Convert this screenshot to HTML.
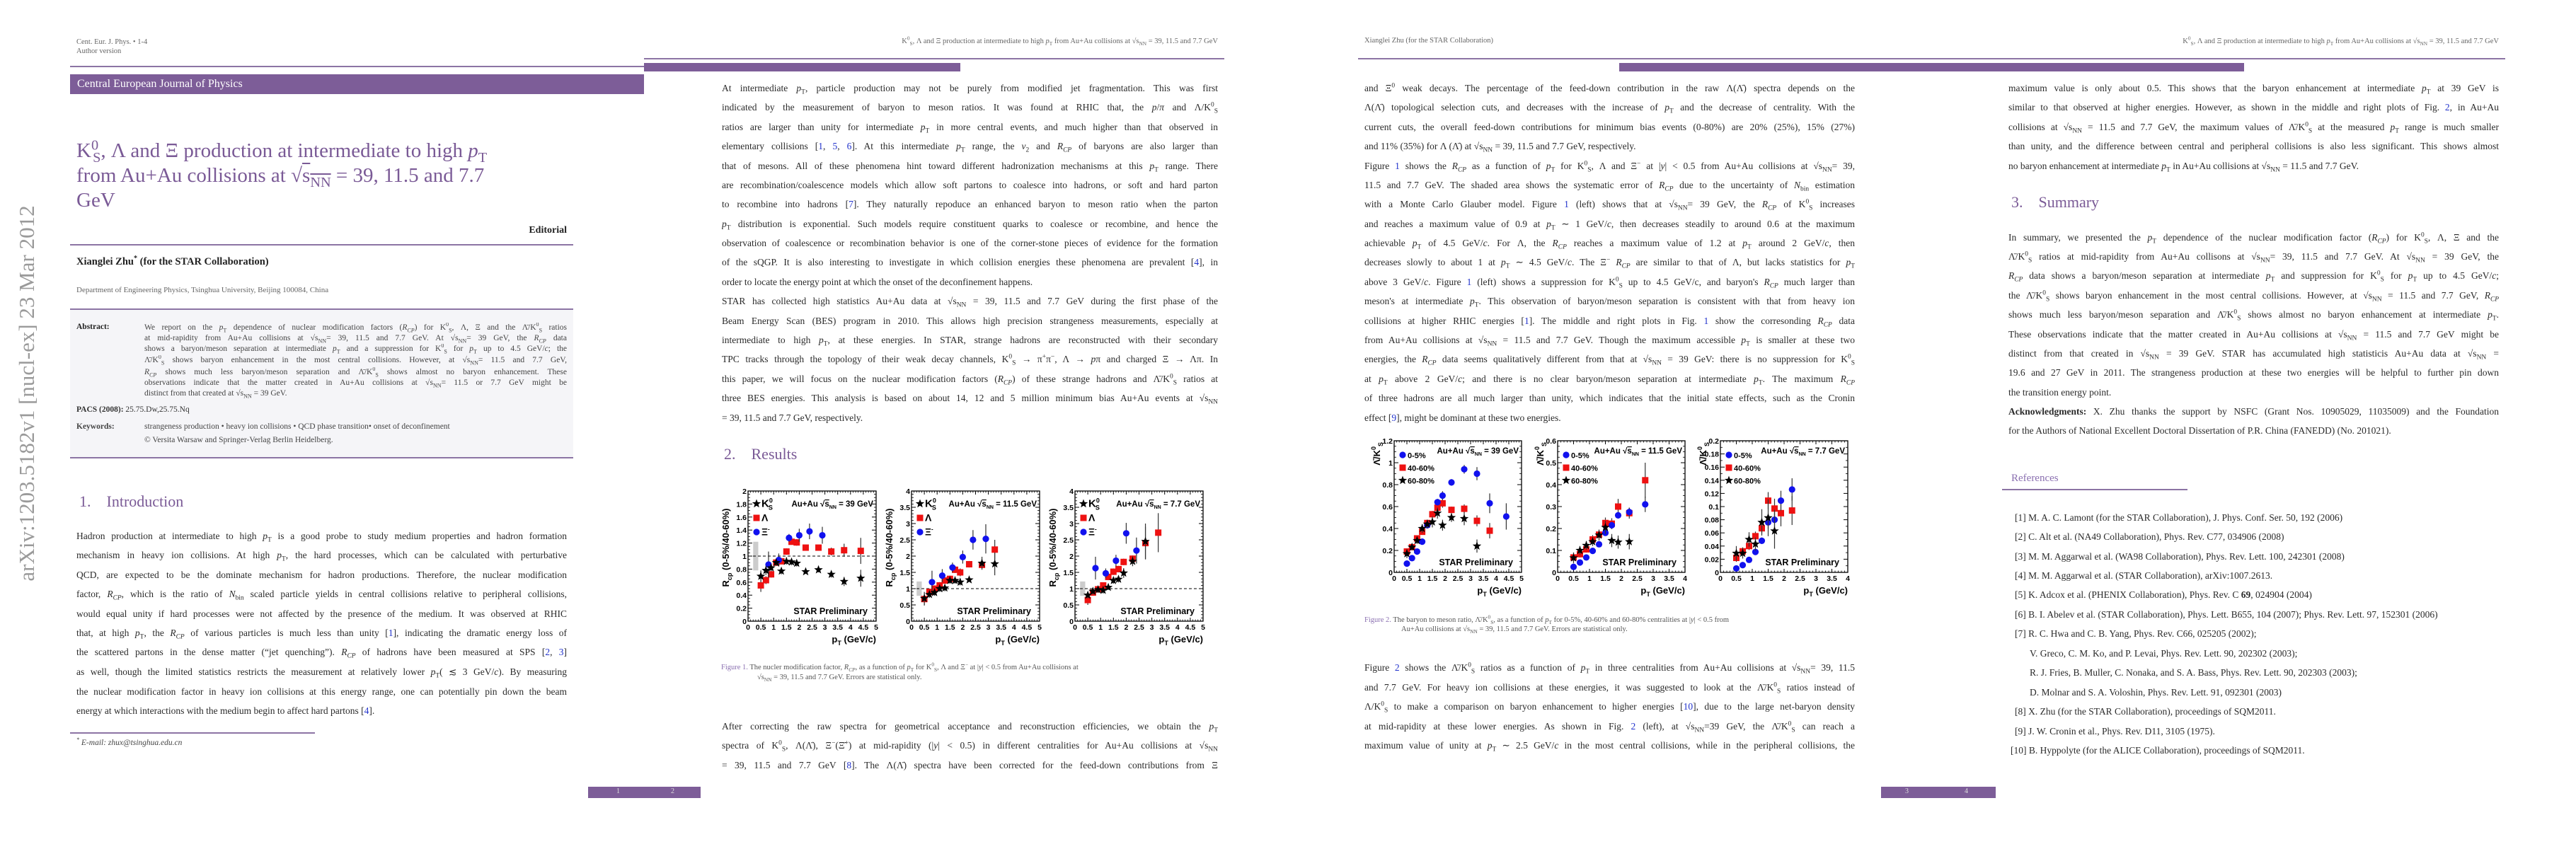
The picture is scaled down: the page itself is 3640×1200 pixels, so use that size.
<!DOCTYPE html>
<html><head><meta charset="utf-8">
<style>
html,body{margin:0;padding:0;background:#fff;}
body{width:3640px;height:1200px;position:relative;overflow:hidden;font-family:"Liberation Serif",serif;color:#2a2a2a;}
.a{position:absolute;}
.t{position:absolute;font-size:13.5px;line-height:16px;height:16px;width:693px;text-align:justify;text-align-last:justify;white-space:normal;overflow:hidden;color:#2a2a2a;}
.t.w{width:701px;}
.t.e{text-align-last:left;}
.s{position:absolute;font-size:11.5px;line-height:14px;height:14px;color:#444;text-align:justify;text-align-last:justify;overflow:hidden;}
.s.e{text-align-last:left;}
.hd{position:absolute;font-size:10.5px;color:#666;white-space:nowrap;}
.rule{position:absolute;height:2px;background:#8c74a4;}
.bar{position:absolute;background:#7d5d98;}
.sec{position:absolute;font-size:22px;color:#7a5a96;white-space:nowrap;}
.lk{color:#2233cc;}
sub,sup{font-size:70%;line-height:0;}
.cap{position:absolute;font-size:10.5px;color:#555;white-space:nowrap;}
.cap b{font-weight:normal;color:#8a6fb0;}
</style></head><body>

<!-- ================= PAGE 1 ================= -->
<div class="a" style="left:0;top:0;width:910px;height:1200px;">
  <div class="a" style="left:-232px;top:536px;width:540px;height:40px;transform:rotate(-90deg);font-size:31px;color:#9a9a9a;white-space:nowrap;text-align:center;line-height:40px;">arXiv:1203.5182v1 [nucl-ex] 23 Mar 2012</div>
  <div class="hd" style="left:108px;top:54px;">Cent. Eur. J. Phys. • 1-4</div>
  <div class="hd" style="left:108px;top:67px;">Author version</div>
  <div class="rule" style="left:99px;top:93px;width:811px;"></div>
  <div class="bar" style="left:99px;top:105px;width:811px;height:28px;"><span style="position:absolute;left:10px;top:5px;color:#fff;font-size:16px;">Central European Journal of Physics</span></div>
  <div class="a" style="left:108px;top:196px;width:700px;font-size:29px;line-height:35px;color:#7a5a96;">K<sup>0</sup><sub style="margin-left:-8px">S</sub>, Λ and Ξ production at intermediate to high <i>p</i><sub>T</sub><br>from Au+Au collisions at √<span style="text-decoration:overline">s<sub>NN</sub></span> = 39, 11.5 and 7.7<br>GeV</div>
  <div class="a" style="left:700px;top:318px;width:101px;text-align:right;font-size:14px;font-weight:bold;color:#222;">Editorial</div>
  <div class="rule" style="left:99px;top:345px;width:711px;"></div>
  <div class="a" style="left:108px;top:362px;font-size:14.5px;font-weight:bold;color:#222;">Xianglei Zhu<sup>*</sup> (for the STAR Collaboration)</div>
  <div class="a" style="left:108px;top:404px;font-size:11px;color:#666;">Department of Engineering Physics, Tsinghua University, Beijing 100084, China</div>
  <div class="rule" style="left:99px;top:436px;width:711px;"></div>
  <div class="a" style="left:99px;top:438px;width:711px;height:208px;background:#f5f5f8;"></div>
  <div class="rule" style="left:99px;top:646px;width:711px;"></div>
  <div class="a" style="left:108px;top:456px;font-size:11.5px;font-weight:bold;color:#222;">Abstract:</div>
  <div class="s" style="left:204px;top:456px;width:597px;">We report on the <i>p</i><sub>T</sub> dependence of nuclear modification factors (<i>R<sub>CP</sub></i>) for K<sup>0</sup><sub>S</sub>, Λ, Ξ and the Λ̄/K<sup>0</sup><sub>S</sub> ratios</div>
  <div class="s" style="left:204px;top:471px;width:597px;">at mid-rapidity from Au+Au collisions at √s<sub>NN</sub>= 39, 11.5 and 7.7 GeV. At √s<sub>NN</sub>= 39 GeV, the <i>R<sub>CP</sub></i> data</div>
  <div class="s" style="left:204px;top:486px;width:597px;">shows a baryon/meson separation at intermediate <i>p</i><sub>T</sub> and a suppression for K<sup>0</sup><sub>S</sub> for <i>p</i><sub>T</sub> up to 4.5 GeV/<i>c</i>; the</div>
  <div class="s" style="left:204px;top:502px;width:597px;">Λ̄/K<sup>0</sup><sub>S</sub> shows baryon enhancement in the most central collisions. However, at √s<sub>NN</sub>= 11.5 and 7.7 GeV,</div>
  <div class="s" style="left:204px;top:519px;width:597px;"><i>R<sub>CP</sub></i> shows much less baryon/meson separation and Λ̄/K<sup>0</sup><sub>S</sub> shows almost no baryon enhancement. These</div>
  <div class="s" style="left:204px;top:534px;width:597px;">observations indicate that the matter created in Au+Au collisions at √s<sub>NN</sub>= 11.5 or 7.7 GeV might be</div>
  <div class="s e" style="left:204px;top:549px;width:597px;">distinct from that created at √s<sub>NN</sub> = 39 GeV.</div>
  <div class="a" style="left:108px;top:573px;font-size:11.5px;color:#333;"><b>PACS (2008):</b> 25.75.Dw,25.75.Nq</div>
  <div class="a" style="left:108px;top:597px;font-size:11.5px;color:#444;white-space:nowrap;"><b>Keywords:</b><span style="position:absolute;left:96px;">strangeness production • heavy ion collisions • QCD phase transition• onset of deconfinement</span></div>
  <div class="a" style="left:204px;top:616px;font-size:11.5px;color:#444;white-space:nowrap;">© Versita Warsaw and Springer-Verlag Berlin Heidelberg.</div>
  <div class="sec" style="left:112px;top:696px;">1.<span style="margin-left:22px">Introduction</span></div>
  <div class="t" style="left:108px;top:750px;">Hadron production at intermediate to high <i>p</i><sub>T</sub> is a good probe to study medium properties and hadron formation</div>
  <div class="t" style="left:108px;top:777px;">mechanism in heavy ion collisions. At high <i>p</i><sub>T</sub>, the hard processes, which can be calculated with perturbative</div>
  <div class="t" style="left:108px;top:805px;">QCD, are expected to be the dominate mechanism for hadron productions. Therefore, the nuclear modification</div>
  <div class="t" style="left:108px;top:832px;">factor, <i>R<sub>CP</sub></i>, which is the ratio of <i>N</i><sub>bin</sub> scaled particle yields in central collisions relative to peripheral collisions,</div>
  <div class="t" style="left:108px;top:860px;">would equal unity if hard processes were not affected by the presence of the medium. It was observed at RHIC</div>
  <div class="t" style="left:108px;top:887px;">that, at high <i>p</i><sub>T</sub>, the <i>R<sub>CP</sub></i> of various particles is much less than unity [<span class="lk">1</span>], indicating the dramatic energy loss of</div>
  <div class="t" style="left:108px;top:914px;">the scattered partons in the dense matter (“jet quenching”). <i>R<sub>CP</sub></i> of hadrons have been measured at SPS [<span class="lk">2</span>, <span class="lk">3</span>]</div>
  <div class="t" style="left:108px;top:942px;">as well, though the limited statistics restricts the measurement at relatively lower <i>p</i><sub>T</sub>( ≲ 3 GeV/<i>c</i>). By measuring</div>
  <div class="t" style="left:108px;top:970px;">the nuclear modification factor in heavy ion collisions at this energy range, one can potentially pin down the beam</div>
  <div class="t e" style="left:108px;top:997px;">energy at which interactions with the medium begin to affect hard partons [<span class="lk">4</span>].</div>
  <div class="rule" style="left:99px;top:1035px;width:346px;height:1.5px;"></div>
  <div class="a" style="left:108px;top:1044px;font-size:11.5px;font-style:italic;color:#444;"><sup>*</sup> E-mail: zhux@tsinghua.edu.cn</div>
  <div class="bar" style="left:831px;top:1112px;width:79px;height:16px;"><span style="position:absolute;left:40px;top:1px;color:#ddd;font-size:10px;">1</span></div>
</div>

<!-- ================= PAGE 2 ================= -->
<div class="a" style="left:910px;top:0;width:910px;height:1200px;">
  <div class="hd" style="right:99px;top:53px;">K<sup>0</sup><sub>S</sub>, Λ and Ξ production at intermediate to high <i>p</i><sub>T</sub> from Au+Au collisions at √s<sub>NN</sub> = 39, 11.5 and 7.7 GeV</div>
  <div class="rule" style="left:0;top:82px;width:820px;"></div>
  <div class="bar" style="left:0;top:89px;width:447px;height:12px;"></div>
  <div class="t w" style="left:110px;top:117px;">At intermediate <i>p</i><sub>T</sub>, particle production may not be purely from modified jet fragmentation. This was first</div>
  <div class="t w" style="left:110px;top:144px;">indicated by the measurement of baryon to meson ratios. It was found at RHIC that, the <i>p</i>/<i>π</i> and Λ/K<sup>0</sup><sub>S</sub></div>
  <div class="t w" style="left:110px;top:172px;">ratios are larger than unity for intermediate <i>p</i><sub>T</sub> in more central events, and much higher than that observed in</div>
  <div class="t w" style="left:110px;top:199px;">elementary collisions [<span class="lk">1</span>, <span class="lk">5</span>, <span class="lk">6</span>]. At this intermediate <i>p</i><sub>T</sub> range, the <i>v</i><sub>2</sub> and <i>R<sub>CP</sub></i> of baryons are also larger than</div>
  <div class="t w" style="left:110px;top:227px;">that of mesons. All of these phenomena hint toward different hadronization mechanisms at this <i>p</i><sub>T</sub> range. There</div>
  <div class="t w" style="left:110px;top:254px;">are recombination/coalescence models which allow soft partons to coalesce into hadrons, or soft and hard parton</div>
  <div class="t w" style="left:110px;top:281px;">to recombine into hadrons [<span class="lk">7</span>]. They naturally repoduce an enhanced baryon to meson ratio when the parton</div>
  <div class="t w" style="left:110px;top:309px;"><i>p</i><sub>T</sub> distribution is exponential. Such models require constituent quarks to coalesce or recombine, and hence the</div>
  <div class="t w" style="left:110px;top:336px;">observation of coalescence or recombination behavior is one of the corner-stone pieces of evidence for the formation</div>
  <div class="t w" style="left:110px;top:363px;">of the sQGP. It is also interesting to investigate in which collision energies these phenomena are prevalent [<span class="lk">4</span>], in</div>
  <div class="t w e" style="left:110px;top:391px;">order to locate the energy point at which the onset of the deconfinement happens.</div>
  <div class="t w" style="left:110px;top:418px;">STAR has collected high statistics Au+Au data at √s<sub>NN</sub> = 39, 11.5 and 7.7 GeV during the first phase of the</div>
  <div class="t w" style="left:110px;top:446px;">Beam Energy Scan (BES) program in 2010. This allows high precision strangeness measurements, especially at</div>
  <div class="t w" style="left:110px;top:473px;">intermediate to high <i>p</i><sub>T</sub>, at these energies. In STAR, strange hadrons are reconstructed with their secondary</div>
  <div class="t w" style="left:110px;top:500px;">TPC tracks through the topology of their weak decay channels, K<sup>0</sup><sub>S</sub> → π<sup>+</sup>π<sup>−</sup>, Λ → <i>p</i>π and charged Ξ → Λπ. In</div>
  <div class="t w" style="left:110px;top:528px;">this paper, we will focus on the nuclear modification factors (<i>R<sub>CP</sub></i>) of these strange hadrons and Λ̄/K<sup>0</sup><sub>S</sub> ratios at</div>
  <div class="t w" style="left:110px;top:555px;">three BES energies. This analysis is based on about 14, 12 and 5 million minimum bias Au+Au events at √s<sub>NN</sub></div>
  <div class="t w e" style="left:110px;top:583px;">= 39, 11.5 and 7.7 GeV, respectively.</div>
  <div class="sec" style="left:113px;top:629px;">2.<span style="margin-left:22px">Results</span></div>
  <div class="cap" style="left:109px;top:938px;"><b>Figure 1.</b> The nucler modification factor, <i>R<sub>CP</sub></i>, as a function of <i>p</i><sub>T</sub> for K<sup>0</sup><sub>S</sub>, Λ and Ξ<sup>−</sup> at |<i>y</i>| &lt; 0.5 from Au+Au collisions at</div>
  <div class="cap" style="left:160px;top:952px;">√s<sub>NN</sub> = 39, 11.5 and 7.7 GeV. Errors are statistical only.</div>
  <div class="t w" style="left:110px;top:1019px;">After correcting the raw spectra for geometrical acceptance and reconstruction efficiencies, we obtain the <i>p</i><sub>T</sub></div>
  <div class="t w" style="left:110px;top:1046px;">spectra of K<sup>0</sup><sub>S</sub>, Λ(Λ̄), Ξ<sup>−</sup>(Ξ̄<sup>+</sup>) at mid-rapidity (|<i>y</i>| &lt; 0.5) in different centralities for Au+Au collisions at √s<sub>NN</sub></div>
  <div class="t w" style="left:110px;top:1074px;">= 39, 11.5 and 7.7 GeV [<span class="lk">8</span>]. The Λ(Λ̄) spectra have been corrected for the feed-down contributions from Ξ</div>
  <div class="bar" style="left:0;top:1112px;width:80px;height:16px;"><span style="position:absolute;left:38px;top:1px;color:#ddd;font-size:10px;">2</span></div>
</div>

<!-- ================= PAGE 3 ================= -->
<div class="a" style="left:1820px;top:0;width:910px;height:1200px;">
  <div class="hd" style="left:108px;top:52px;">Xianglei Zhu (for the STAR Collaboration)</div>
  <div class="rule" style="left:99px;top:82px;width:811px;"></div>
  <div class="bar" style="left:468px;top:89px;width:442px;height:12px;"></div>
  <div class="t" style="left:108px;top:117px;">and Ξ<sup>0</sup> weak decays. The percentage of the feed-down contribution in the raw Λ(Λ̄) spectra depends on the</div>
  <div class="t" style="left:108px;top:144px;">Λ(Λ̄) topological selection cuts, and decreases with the increase of <i>p</i><sub>T</sub> and the decrease of centrality. With the</div>
  <div class="t" style="left:108px;top:172px;">current cuts, the overall feed-down contributions for minimum bias events (0-80%) are 20% (25%), 15% (27%)</div>
  <div class="t e" style="left:108px;top:199px;">and 11% (35%) for Λ (Λ̄) at √s<sub>NN</sub> = 39, 11.5 and 7.7 GeV, respectively.</div>
  <div class="t" style="left:108px;top:227px;">Figure <span class="lk">1</span> shows the <i>R<sub>CP</sub></i> as a function of <i>p</i><sub>T</sub> for K<sup>0</sup><sub>S</sub>, Λ and Ξ<sup>−</sup> at |<i>y</i>| &lt; 0.5 from Au+Au collisions at √s<sub>NN</sub>= 39,</div>
  <div class="t" style="left:108px;top:254px;">11.5 and 7.7 GeV. The shaded area shows the systematic error of <i>R<sub>CP</sub></i> due to the uncertainty of <i>N</i><sub>bin</sub> estimation</div>
  <div class="t" style="left:108px;top:281px;">with a Monte Carlo Glauber model. Figure <span class="lk">1</span> (left) shows that at √s<sub>NN</sub>= 39 GeV, the <i>R<sub>CP</sub></i> of K<sup>0</sup><sub>S</sub> increases</div>
  <div class="t" style="left:108px;top:309px;">and reaches a maximum value of 0.9 at <i>p</i><sub>T</sub> ∼ 1 GeV/<i>c</i>, then decreases steadily to around 0.6 at the maximum</div>
  <div class="t" style="left:108px;top:336px;">achievable <i>p</i><sub>T</sub> of 4.5 GeV/<i>c</i>. For Λ, the <i>R<sub>CP</sub></i> reaches a maximum value of 1.2 at <i>p</i><sub>T</sub> around 2 GeV/<i>c</i>, then</div>
  <div class="t" style="left:108px;top:363px;">decreases slowly to about 1 at <i>p</i><sub>T</sub> ∼ 4.5 GeV/<i>c</i>. The Ξ<sup>−</sup> <i>R<sub>CP</sub></i> are similar to that of Λ, but lacks statistics for <i>p</i><sub>T</sub></div>
  <div class="t" style="left:108px;top:391px;">above 3 GeV/<i>c</i>. Figure <span class="lk">1</span> (left) shows a suppression for K<sup>0</sup><sub>S</sub> up to 4.5 GeV/c, and baryon's <i>R<sub>CP</sub></i> much larger than</div>
  <div class="t" style="left:108px;top:418px;">meson's at intermediate <i>p</i><sub>T</sub>. This observation of baryon/meson separation is consistent with that from heavy ion</div>
  <div class="t" style="left:108px;top:446px;">collisions at higher RHIC energies [<span class="lk">1</span>]. The middle and right plots in Fig. <span class="lk">1</span> show the corresonding <i>R<sub>CP</sub></i> data</div>
  <div class="t" style="left:108px;top:473px;">from Au+Au collisions at √s<sub>NN</sub> = 11.5 and 7.7 GeV. Though the maximum accessible <i>p</i><sub>T</sub> is smaller at these two</div>
  <div class="t" style="left:108px;top:500px;">energies, the <i>R<sub>CP</sub></i> data seems qualitatively different from that at √s<sub>NN</sub> = 39 GeV: there is no suppression for K<sup>0</sup><sub>S</sub></div>
  <div class="t" style="left:108px;top:528px;">at <i>p</i><sub>T</sub> above 2 GeV/<i>c</i>; and there is no clear baryon/meson separation at intermediate <i>p</i><sub>T</sub>. The maximum <i>R<sub>CP</sub></i></div>
  <div class="t" style="left:108px;top:555px;">of three hadrons are all much larger than unity, which indicates that the initial state effects, such as the Cronin</div>
  <div class="t e" style="left:108px;top:583px;">effect [<span class="lk">9</span>], might be dominant at these two energies.</div>
  <div class="cap" style="left:108px;top:871px;"><b>Figure 2.</b> The baryon to meson ratio, Λ̄/K<sup>0</sup><sub>S</sub>, as a function of <i>p</i><sub>T</sub> for 0-5%, 40-60% and 60-80% centralities at |<i>y</i>| &lt; 0.5 from</div>
  <div class="cap" style="left:160px;top:884px;">Au+Au collisions at √s<sub>NN</sub> = 39, 11.5 and 7.7 GeV. Errors are statistical only.</div>
  <div class="t" style="left:108px;top:936px;">Figure <span class="lk">2</span> shows the Λ̄/K<sup>0</sup><sub>S</sub> ratios as a function of <i>p</i><sub>T</sub> in three centralities from Au+Au collisions at √s<sub>NN</sub>= 39, 11.5</div>
  <div class="t" style="left:108px;top:964px;">and 7.7 GeV. For heavy ion collisions at these energies, it was suggested to look at the Λ̄/K<sup>0</sup><sub>S</sub> ratios instead of</div>
  <div class="t" style="left:108px;top:991px;">Λ/K<sup>0</sup><sub>S</sub> to make a comparison on baryon enhancement to higher energies [<span class="lk">10</span>], due to the large net-baryon density</div>
  <div class="t" style="left:108px;top:1019px;">at mid-rapidity at these lower energies. As shown in Fig. <span class="lk">2</span> (left), at √s<sub>NN</sub>=39 GeV, the Λ̄/K<sup>0</sup><sub>S</sub> can reach a</div>
  <div class="t" style="left:108px;top:1046px;">maximum value of unity at <i>p</i><sub>T</sub> ∼ 2.5 GeV/<i>c</i> in the most central collisions, while in the peripheral collisions, the</div>
  <div class="bar" style="left:838px;top:1112px;width:72px;height:16px;"><span style="position:absolute;left:34px;top:1px;color:#ddd;font-size:10px;">3</span></div>
</div>

<!-- ================= PAGE 4 ================= -->
<div class="a" style="left:2730px;top:0;width:910px;height:1200px;">
  <div class="hd" style="right:109px;top:53px;">K<sup>0</sup><sub>S</sub>, Λ and Ξ production at intermediate to high <i>p</i><sub>T</sub> from Au+Au collisions at √s<sub>NN</sub> = 39, 11.5 and 7.7 GeV</div>
  <div class="rule" style="left:0;top:82px;width:810px;"></div>
  <div class="bar" style="left:0;top:89px;width:441px;height:12px;"></div>
  <div class="t" style="left:108px;top:117px;">maximum value is only about 0.5. This shows that the baryon enhancement at intermediate <i>p</i><sub>T</sub> at 39 GeV is</div>
  <div class="t" style="left:108px;top:144px;">similar to that observed at higher energies. However, as shown in the middle and right plots of Fig. <span class="lk">2</span>, in Au+Au</div>
  <div class="t" style="left:108px;top:172px;">collisions at √s<sub>NN</sub> = 11.5 and 7.7 GeV, the maximum values of Λ̄/K<sup>0</sup><sub>S</sub> at the measured <i>p</i><sub>T</sub> range is much smaller</div>
  <div class="t" style="left:108px;top:199px;">than unity, and the difference between central and peripheral collisions is also less significant. This shows almost</div>
  <div class="t e" style="left:108px;top:227px;">no baryon enhancement at intermediate <i>p</i><sub>T</sub> in Au+Au collisions at √s<sub>NN</sub> = 11.5 and 7.7 GeV.</div>
  <div class="sec" style="left:112px;top:273px;">3.<span style="margin-left:22px">Summary</span></div>
  <div class="t" style="left:108px;top:328px;">In summary, we presented the <i>p</i><sub>T</sub> dependence of the nuclear modification factor (<i>R<sub>CP</sub></i>) for K<sup>0</sup><sub>S</sub>, Λ, Ξ and the</div>
  <div class="t" style="left:108px;top:355px;">Λ̄/K<sup>0</sup><sub>S</sub> ratios at mid-rapidity from Au+Au collisons at √s<sub>NN</sub>= 39, 11.5 and 7.7 GeV. At √s<sub>NN</sub> = 39 GeV, the</div>
  <div class="t" style="left:108px;top:382px;"><i>R<sub>CP</sub></i> data shows a baryon/meson separation at intermediate <i>p</i><sub>T</sub> and suppression for K<sup>0</sup><sub>S</sub> for <i>p</i><sub>T</sub> up to 4.5 GeV/<i>c</i>;</div>
  <div class="t" style="left:108px;top:410px;">the Λ̄/K<sup>0</sup><sub>S</sub> shows baryon enhancement in the most central collisions. However, at √s<sub>NN</sub> = 11.5 and 7.7 GeV, <i>R<sub>CP</sub></i></div>
  <div class="t" style="left:108px;top:437px;">shows much less baryon/meson separation and Λ̄/K<sup>0</sup><sub>S</sub> shows almost no baryon enhancement at intermediate <i>p</i><sub>T</sub>.</div>
  <div class="t" style="left:108px;top:465px;">These observations indicate that the matter created in Au+Au collisions at √s<sub>NN</sub> = 11.5 and 7.7 GeV might be</div>
  <div class="t" style="left:108px;top:492px;">distinct from that created in √s<sub>NN</sub> = 39 GeV. STAR has accumulated high statisticis Au+Au data at √s<sub>NN</sub> =</div>
  <div class="t" style="left:108px;top:519px;">19.6 and 27 GeV in 2011. The strangeness production at these two energies will be helpful to further pin down</div>
  <div class="t e" style="left:108px;top:547px;">the transition energy point.</div>
  <div class="t" style="left:108px;top:574px;"><b>Acknowledgments:</b> X. Zhu thanks the support by NSFC (Grant Nos. 10905029, 11035009) and the Foundation</div>
  <div class="t e" style="left:108px;top:601px;">for the Authors of National Excellent Doctoral Dissertation of P.R. China (FANEDD) (No. 201021).</div>
  <div class="a" style="left:112px;top:668px;font-size:15px;color:#8a6fb0;">References</div>
  <div class="rule" style="left:99px;top:691px;width:262px;height:1.5px;"></div>
  <div class="t e" style="left:117px;top:724px;">[1] M. A. C. Lamont (for the STAR Collaboration), J. Phys. Conf. Ser. 50, 192 (2006)</div>
  <div class="t e" style="left:117px;top:751px;">[2] C. Alt et al. (NA49 Collaboration), Phys. Rev. C77, 034906 (2008)</div>
  <div class="t e" style="left:117px;top:779px;">[3] M. M. Aggarwal et al. (WA98 Collaboration), Phys. Rev. Lett. 100, 242301 (2008)</div>
  <div class="t e" style="left:117px;top:806px;">[4] M. M. Aggarwal et al. (STAR Collaboration), arXiv:1007.2613.</div>
  <div class="t e" style="left:117px;top:833px;">[5] K. Adcox et al. (PHENIX Collaboration), Phys. Rev. C <b>69</b>, 024904 (2004)</div>
  <div class="t e" style="left:117px;top:861px;">[6] B. I. Abelev et al. (STAR Collaboration), Phys. Lett. B655, 104 (2007); Phys. Rev. Lett. 97, 152301 (2006)</div>
  <div class="t e" style="left:117px;top:888px;">[7] R. C. Hwa and C. B. Yang, Phys. Rev. C66, 025205 (2002);</div>
  <div class="t e" style="left:138px;top:916px;">V. Greco, C. M. Ko, and P. Levai, Phys. Rev. Lett. 90, 202302 (2003);</div>
  <div class="t e" style="left:138px;top:943px;">R. J. Fries, B. Muller, C. Nonaka, and S. A. Bass, Phys. Rev. Lett. 90, 202303 (2003);</div>
  <div class="t e" style="left:138px;top:971px;">D. Molnar and S. A. Voloshin, Phys. Rev. Lett. 91, 092301 (2003)</div>
  <div class="t e" style="left:117px;top:998px;">[8] X. Zhu (for the STAR Collaboration), proceedings of SQM2011.</div>
  <div class="t e" style="left:117px;top:1026px;">[9] J. W. Cronin et al., Phys. Rev. D11, 3105 (1975).</div>
  <div class="t e" style="left:111px;top:1053px;">[10] B. Hyppolyte (for the ALICE Collaboration), proceedings of SQM2011.</div>
  <div class="bar" style="left:0;top:1112px;width:90px;height:16px;"><span style="position:absolute;left:46px;top:1px;color:#ddd;font-size:10px;">4</span></div>
</div>

<svg id="charts" width="3640" height="1200" style="position:absolute;left:0;top:0;" xmlns="http://www.w3.org/2000/svg"></svg>

<script>
// ===== Figure 1 data: R_CP vs pT =====
const f1p1_k0_x = [0.5,0.7,0.9,1.1,1.3,1.5,1.7,1.9,2.25,2.75,3.25,3.75,4.4];
const f1p1_k0_y = [0.69,0.78,0.82,0.90,0.77,0.92,0.91,0.89,0.76,0.79,0.72,0.61,0.66];
const f1p1_k0_e = [0.09,0.07,0.05,0.05,0.05,0.05,0.05,0.05,0.03,0.04,0.05,0.07,0.13];
const f1p1_la_x = [0.5,0.7,0.9,1.1,1.3,1.5,1.7,1.9,2.25,2.75,3.25,3.75,4.4];
const f1p1_la_y = [0.55,0.63,0.72,0.90,0.92,1.07,1.22,1.21,1.13,1.13,1.07,1.09,1.08];
const f1p1_la_e = [0.10,0.06,0.05,0.05,0.04,0.05,0.04,0.05,0.03,0.03,0.06,0.10,0.20];
const f1p1_xi_x = [0.8,1.2,1.6,2.0,2.4,2.9];
const f1p1_xi_y = [0.87,0.94,1.28,1.32,1.38,1.32];
const f1p1_xi_e = [0.20,0.10,0.06,0.10,0.12,0.13];

const f1p2_k0_x = [0.5,0.7,0.9,1.1,1.3,1.5,1.7,1.9,2.25,2.75,3.25];
const f1p2_k0_y = [0.70,0.82,0.88,1.00,1.02,1.25,1.25,1.20,1.27,1.78,1.76];
const f1p2_k0_e = [0.20,0.10,0.10,0.10,0.10,0.10,0.10,0.10,0.05,0.20,0.35];
const f1p2_la_x = [0.5,0.7,0.9,1.1,1.3,1.5,1.7,1.9,2.25,2.75,3.25];
const f1p2_la_y = [0.68,0.90,1.00,1.10,1.25,1.30,1.58,1.50,1.75,1.73,2.20];
const f1p2_la_e = [0.20,0.10,0.10,0.10,0.10,0.10,0.10,0.12,0.10,0.12,0.30];
const f1p2_xi_x = [0.8,1.2,1.6,2.0,2.4,2.9];
const f1p2_xi_y = [1.20,1.40,1.65,1.97,2.50,2.53];
const f1p2_xi_e = [0.35,0.20,0.15,0.20,0.30,0.45];

const f1p3_k0_x = [0.5,0.7,0.9,1.1,1.3,1.5,1.7,1.9,2.25,2.75];
const f1p3_k0_y = [0.80,0.92,0.97,0.95,1.04,1.25,1.29,1.48,1.84,2.45];
const f1p3_k0_e = [0.10,0.10,0.10,0.10,0.08,0.10,0.10,0.15,0.15,0.55];
const f1p3_la_x = [0.5,0.7,0.9,1.1,1.3,1.5,1.7,1.9,2.25,2.75,3.25];
const f1p3_la_y = [0.65,0.88,0.98,1.10,1.36,1.52,1.60,1.82,1.92,2.40,2.72];
const f1p3_la_e = [0.15,0.10,0.08,0.08,0.10,0.10,0.10,0.10,0.10,0.50,0.60];
const f1p3_xi_x = [0.8,1.2,1.6,2.0,2.4];
const f1p3_xi_y = [1.63,1.47,1.86,2.70,2.17];
const f1p3_xi_e = [0.35,0.15,0.18,0.32,0.40];

// ===== Figure 2 data: anti-Lambda/K0S vs pT =====
const f2p1_c_x = [0.5,0.7,0.9,1.1,1.3,1.7,1.9,2.25,2.75,3.25,3.75,4.4];
const f2p1_c_y = [0.08,0.13,0.19,0.28,0.43,0.64,0.70,0.82,0.94,0.90,0.63,0.51];
const f2p1_c_e = [0.01,0.01,0.01,0.01,0.02,0.03,0.04,0.03,0.04,0.06,0.09,0.12];
const f2p1_m_x = [0.5,0.7,0.9,1.1,1.3,1.5,1.7,1.9,2.25,2.75,3.25,3.75];
const f2p1_m_y = [0.19,0.23,0.31,0.37,0.45,0.53,0.59,0.63,0.57,0.58,0.47,0.38];
const f2p1_m_e = [0.03,0.02,0.02,0.02,0.03,0.03,0.03,0.04,0.03,0.04,0.05,0.07];
const f2p1_p_x = [0.5,0.7,0.9,1.1,1.3,1.5,1.7,1.9,2.25,2.75,3.25];
const f2p1_p_y = [0.17,0.23,0.29,0.40,0.44,0.46,0.54,0.43,0.50,0.49,0.24];
const f2p1_p_e = [0.04,0.03,0.03,0.04,0.04,0.05,0.05,0.05,0.04,0.06,0.06];

const f2p2_c_x = [0.5,0.7,0.9,1.1,1.3,1.5,1.7,1.9,2.25,2.75];
const f2p2_c_y = [0.025,0.045,0.068,0.098,0.128,0.18,0.215,0.26,0.275,0.31];
const f2p2_c_e = [0.005,0.005,0.005,0.008,0.008,0.01,0.015,0.015,0.02,0.035];
const f2p2_m_x = [0.5,0.7,0.9,1.1,1.3,1.5,1.7,1.9,2.25,2.75];
const f2p2_m_y = [0.068,0.083,0.105,0.15,0.172,0.225,0.222,0.30,0.27,0.42];
const f2p2_m_e = [0.02,0.015,0.015,0.02,0.02,0.025,0.025,0.035,0.025,0.08];
const f2p2_p_x = [0.5,0.7,0.9,1.1,1.3,1.5,1.7,1.9,2.25];
const f2p2_p_y = [0.066,0.10,0.123,0.14,0.17,0.205,0.145,0.138,0.14];
const f2p2_p_e = [0.025,0.02,0.02,0.02,0.025,0.03,0.03,0.03,0.035];

const f2p3_c_x = [0.5,0.7,0.9,1.1,1.3,1.5,1.7,1.9,2.25];
const f2p3_c_y = [0.006,0.011,0.019,0.031,0.048,0.076,0.080,0.109,0.126];
const f2p3_c_e = [0.002,0.002,0.003,0.004,0.005,0.01,0.015,0.015,0.017];
const f2p3_m_x = [0.5,0.7,0.9,1.1,1.3,1.5,1.7,1.9,2.25];
const f2p3_m_y = [0.022,0.032,0.040,0.055,0.067,0.109,0.097,0.090,0.094];
const f2p3_m_e = [0.006,0.006,0.006,0.007,0.008,0.013,0.015,0.02,0.022];
const f2p3_p_x = [0.5,0.7,0.9,1.1,1.3,1.5,1.7];
const f2p3_p_y = [0.029,0.029,0.050,0.043,0.076,0.083,0.063];
const f2p3_p_e = [0.011,0.008,0.011,0.010,0.020,0.028,0.027];

// ===== tick labels =====
const xTicks5 = ['0','0.5','1','1.5','2','2.5','3','3.5','4','4.5','5'];
const xTicks4 = ['0','0.5','1','1.5','2','2.5','3','3.5','4'];
const yTicksR2 = ['0','0.2','0.4','0.6','0.8','1','1.2','1.4','1.6','1.8','2'];
const yTicksR4 = ['0','0.5','1','1.5','2','2.5','3','3.5','4'];
const yTicksA1 = ['0','0.2','0.4','0.6','0.8','1','1.2'];
const yTicksA2 = ['0','0.1','0.2','0.3','0.4','0.5','0.6'];
const yTicksA3 = ['0','0.02','0.04','0.06','0.08','0.1','0.12','0.14','0.16','0.18','0.2'];
const energies = ['39','11.5','7.7'];

const svg = document.getElementById('charts');
const NS = 'http://www.w3.org/2000/svg';
function mk(tag, attrs, parent){
  const e = document.createElementNS(NS, tag);
  for (const k in attrs) e.setAttribute(k, attrs[k]);
  (parent||svg).appendChild(e);
  return e;
}
function starPts(cx, cy, r){
  const p = [];
  for (let i=0;i<10;i++){
    const a = -Math.PI/2 + i*Math.PI/5;
    const rr = i%2 ? r*0.42 : r;
    p.push((cx+rr*Math.cos(a)).toFixed(1)+','+(cy+rr*Math.sin(a)).toFixed(1));
  }
  return p.join(' ');
}
function marker(g, kind, cx, cy){
  let m;
  if (kind==='star'){ m = mk('polygon',{points:starPts(cx,cy,6.5),fill:'#000'},g); }
  else if (kind==='square'){ m = mk('rect',{x:cx-4.5,y:cy-4.5,width:9,height:9,fill:'#ee1111'},g); }
  else { m = mk('circle',{cx:cx,cy:cy,r:4.6,fill:'#1111ee'},g); }
  return m;
}

function panel(cfg){
  const g = mk('g',{});
  
  
  const X = v => cfg.x0 + v/cfg.xmax*cfg.w;
  const Y = v => cfg.y0 + cfg.h - v/cfg.ymax*cfg.h;
  const fr = mk('rect',{x:cfg.x0,y:cfg.y0,width:cfg.w,height:cfg.h,fill:'none',stroke:'#000','stroke-width':1.3},g);
  
  
  const xs = cfg.xticks;
  const xstep = cfg.xmax/(xs.length-1);
  for (let i=0;i<xs.length;i++){
    const v = i*xstep, px = X(v);
    mk('line',{x1:px,y1:cfg.y0+cfg.h,x2:px,y2:cfg.y0+cfg.h-5,stroke:'#000','stroke-width':1},g);
    mk('line',{x1:px,y1:cfg.y0,x2:px,y2:cfg.y0+5,stroke:'#000','stroke-width':1},g);
    if (i<xs.length-1) for (let j=1;j<5;j++){
      const q = X(v + j*xstep/5);
      mk('line',{x1:q,y1:cfg.y0+cfg.h,x2:q,y2:cfg.y0+cfg.h-2.5,stroke:'#000','stroke-width':0.8},g);
      mk('line',{x1:q,y1:cfg.y0,x2:q,y2:cfg.y0+2.5,stroke:'#000','stroke-width':0.8},g);
    }
    const tl = mk('text',{x:px,y:cfg.y0+cfg.h+12,'font-size':10.5,'font-family':'Liberation Sans, sans-serif','font-weight':'bold','text-anchor':'middle'},g);
    tl.textContent = xs[i];
    
    
  }
  const ys = cfg.yticks;
  const ystep = cfg.ymax/(ys.length-1);
  for (let i=0;i<ys.length;i++){
    const v = i*ystep, py = Y(v);
    mk('line',{x1:cfg.x0,y1:py,x2:cfg.x0+6,y2:py,stroke:'#000','stroke-width':1},g);
    mk('line',{x1:cfg.x0+cfg.w,y1:py,x2:cfg.x0+cfg.w-6,y2:py,stroke:'#000','stroke-width':1},g);
    if (i<ys.length-1) for (let j=1;j<cfg.yminor;j++){
      const q = Y(v + j*ystep/cfg.yminor);
      mk('line',{x1:cfg.x0,y1:q,x2:cfg.x0+3,y2:q,stroke:'#000','stroke-width':0.8},g);
      mk('line',{x1:cfg.x0+cfg.w,y1:q,x2:cfg.x0+cfg.w-3,y2:q,stroke:'#000','stroke-width':0.8},g);
    }
    const tl = mk('text',{x:cfg.x0-2,y:py+4,'font-size':10.5,'font-family':'Liberation Sans, sans-serif','font-weight':'bold','text-anchor':'end'},g);
    tl.textContent = ys[i];
    
    
  }
  const xt = mk('text',{x:cfg.x0+cfg.w,y:cfg.y0+cfg.h+30,'font-size':13,'font-family':'Liberation Sans, sans-serif','font-weight':'bold','text-anchor':'end'},g);
  xt.innerHTML = 'p<tspan font-size="9" dy="4">T</tspan><tspan dy="-4"> (GeV/c)</tspan>';
  
  
  if (cfg.unity){
    mk('rect',{x:X(0.2),y:Y(1.22),width:X(0.4)-X(0.2),height:Y(0.78)-Y(1.22),fill:'#cccccc'},g);
    const ul = mk('line',{x1:cfg.x0,y1:Y(1),x2:cfg.x0+cfg.w,y2:Y(1),stroke:'#000','stroke-width':1,'stroke-dasharray':'4,3'},g);
    
    
  }
  cfg.series.forEach(s=>{
    const sg = mk('g',{},g);
    
    
    for (let i=0;i<s.x.length;i++){
      const px = X(s.x[i]), py = Y(s.y[i]);
      const eb = mk('line',{x1:px,y1:Y(s.y[i]-s.e[i]),x2:px,y2:Y(s.y[i]+s.e[i]),stroke:'#333','stroke-width':1.2},sg);
      
      
      const m = marker(sg, s.kind, px, py);
      
      
    }
  });
  const fs = 'Liberation Sans, sans-serif';
  const title = mk('text',{x:cfg.x0+cfg.w-4,y:cfg.y0+cfg.titleDy,'font-size':11.5,'font-family':fs,'font-weight':'bold','text-anchor':'end'},g);
  title.innerHTML = 'Au+Au √<tspan text-decoration="overline">s</tspan><tspan font-size="7" dy="3">NN</tspan><tspan dy="-3"> = '+cfg.energy+' GeV</tspan>';
  
  
  const sp = mk('text',{x:cfg.x0+cfg.w-12,y:cfg.y0+cfg.h-10,'font-size':12.5,'font-family':fs,'font-weight':'bold','text-anchor':'end'},g);
  sp.textContent = 'STAR Preliminary';
  
  
  cfg.legend.forEach((L,k)=>{
    const ly = cfg.y0 + cfg.legY0 + k*cfg.legDy;
    const lm = marker(g, L.kind, cfg.x0+12, ly);
    
    
    const lt = mk('text',{x:cfg.x0+19,y:ly+4.5,'font-size':L.fs,'font-family':fs,'font-weight':'bold'},g);
    lt.innerHTML = L.label;
    
    
  });
  const yt = mk('text',{'font-size':cfg.yfs,'font-family':fs,'font-weight':'bold','text-anchor':cfg.yanchor,transform:'translate('+(cfg.x0-cfg.ytdx)+','+(cfg.y0+cfg.ytdy)+') rotate(-90)'},g);
  yt.innerHTML = cfg.ytitle;
  
  
}

const leg1 = [
  {kind:'star', label:'K<tspan font-size="9" dy="-6">0</tspan><tspan font-size="9" dx="-6" dy="10">S</tspan>', fs:15},
  {kind:'square', label:'Λ', fs:14},
  {kind:'circle', label:'Ξ<tspan font-size="8" dy="-6">-</tspan>', fs:14}
];
const leg2 = [
  {kind:'circle', label:'0-5%', fs:11},
  {kind:'square', label:'40-60%', fs:11},
  {kind:'star', label:'60-80%', fs:11}
];
const rcpTitle = 'R<tspan font-size="9" dy="4">cp</tspan><tspan dy="-4"> (0-5%/40-60%)</tspan>';
const ratTitle = 'Λ̄/K<tspan font-size="9" dy="-6">0</tspan><tspan font-size="9" dy="10">S</tspan>';

const f1x = [1057,1288,1519];
const f1data = [
  {k0:[f1p1_k0_x,f1p1_k0_y,f1p1_k0_e], la:[f1p1_la_x,f1p1_la_y,f1p1_la_e], xi:[f1p1_xi_x,f1p1_xi_y,f1p1_xi_e], ymax:2, yt:yTicksR2, minor:4},
  {k0:[f1p2_k0_x,f1p2_k0_y,f1p2_k0_e], la:[f1p2_la_x,f1p2_la_y,f1p2_la_e], xi:[f1p2_xi_x,f1p2_xi_y,f1p2_xi_e], ymax:4, yt:yTicksR4, minor:5},
  {k0:[f1p3_k0_x,f1p3_k0_y,f1p3_k0_e], la:[f1p3_la_x,f1p3_la_y,f1p3_la_e], xi:[f1p3_xi_x,f1p3_xi_y,f1p3_xi_e], ymax:4, yt:yTicksR4, minor:5}
];
f1data.forEach((d,i)=>{
  panel({name:'fig1-panel-'+energies[i]+'gev', x0:f1x[i], y0:694, w:181, h:184, xmax:5, ymax:d.ymax,
    xticks:xTicks5, yticks:d.yt, yminor:d.minor, unity:true, energy:energies[i], titleDy:22,
    legend:leg1, legY0:18, legDy:20, ytitle:rcpTitle, yfs:13, yanchor:'middle', ytdx:27, ytdy:80,
    series:[
      {name:'lambda-series', kind:'square', x:d.la[0], y:d.la[1], e:d.la[2]},
      {name:'xi-series', kind:'circle', x:d.xi[0], y:d.xi[1], e:d.xi[2]},
      {name:'k0s-series', kind:'star', x:d.k0[0], y:d.k0[1], e:d.k0[2]}
    ]});
});

const f2x = [1970,2201,2431];
const f2data = [
  {c:[f2p1_c_x,f2p1_c_y,f2p1_c_e], m:[f2p1_m_x,f2p1_m_y,f2p1_m_e], p:[f2p1_p_x,f2p1_p_y,f2p1_p_e], xmax:5, xt:xTicks5, ymax:1.2, yt:yTicksA1, minor:4},
  {c:[f2p2_c_x,f2p2_c_y,f2p2_c_e], m:[f2p2_m_x,f2p2_m_y,f2p2_m_e], p:[f2p2_p_x,f2p2_p_y,f2p2_p_e], xmax:4, xt:xTicks4, ymax:0.6, yt:yTicksA2, minor:4},
  {c:[f2p3_c_x,f2p3_c_y,f2p3_c_e], m:[f2p3_m_x,f2p3_m_y,f2p3_m_e], p:[f2p3_p_x,f2p3_p_y,f2p3_p_e], xmax:4, xt:xTicks4, ymax:0.2, yt:yTicksA3, minor:2}
];
f2data.forEach((d,i)=>{
  panel({name:'fig2-panel-'+energies[i]+'gev', x0:f2x[i], y0:623, w:180, h:186, xmax:d.xmax, ymax:d.ymax,
    xticks:d.xt, yticks:d.yt, yminor:d.minor, unity:false, energy:energies[i], titleDy:18,
    legend:leg2, legY0:20, legDy:18, ytitle:ratTitle, yfs:13, yanchor:'end', ytdx:20, ytdy:2,
    series:[
      {name:'centrality-40-60-series', kind:'square', x:d.m[0], y:d.m[1], e:d.m[2]},
      {name:'centrality-0-5-series', kind:'circle', x:d.c[0], y:d.c[1], e:d.c[2]},
      {name:'centrality-60-80-series', kind:'star', x:d.p[0], y:d.p[1], e:d.p[2]}
    ]});
});
</script>
</body></html>
